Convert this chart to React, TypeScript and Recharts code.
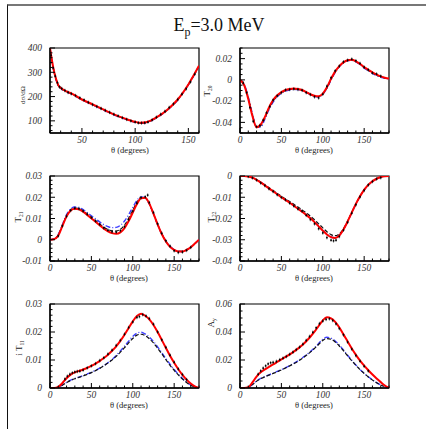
import React from "react";
import { ComposedChart, Line, Scatter, XAxis, YAxis, ReferenceArea } from "recharts";

const SERIF = '"Liberation Serif", "DejaVu Serif", serif';

// angle grid for the calculated curves (degrees)
const THETA = [0, 5, 10, 15, 20, 25, 30, 35, 40, 45, 50, 55, 60, 65, 70, 75, 80, 85, 90, 95, 100, 105, 110, 115, 120, 125, 130, 135, 140, 145, 150, 155, 160, 165, 170, 175, 180];
const THETA_XS = [20, 22, 24, 26, 28, 30, 35, 40, 50, 60, 70, 80, 90, 100, 105, 110, 115, 120, 130, 140, 150, 160];

// dsigma/dOmega
const XS_RED = [400, 345, 300, 268, 245, 236, 222, 213, 188, 168, 147, 127, 110, 96, 92, 94, 102, 114, 145, 188, 250, 327];
const XS_BLUE = [398, 343, 297, 265, 243, 234, 220, 211, 186, 166, 145, 125, 108, 94, 90, 92, 100, 112, 143, 186, 248, 325];
const XS_BLACK = [399, 344, 299, 267, 244, 235, 221, 212, 187, 167, 146, 126, 109, 95, 91, 93, 101, 113, 144, 187, 249, 326];
const XS_PTS_X = [21, 23, 25, 27, 29, 31, 34, 37, 40, 44, 48, 52, 56, 60, 64, 68, 72, 76, 80, 84, 88, 92, 96, 100, 103, 106, 109, 112, 116, 120, 124, 128, 132, 136, 140, 144, 148, 152, 156];
const XS_PTS_Y = [370, 318, 284, 257, 240, 233, 225, 217, 212, 204, 195, 186, 176, 167, 159, 151, 143, 135, 127, 120, 113, 106, 100, 95, 92, 91, 92, 95, 104, 115, 127, 139, 155, 170, 188, 210, 232, 260, 292];

// T20
const T20_RED = [0, -0.005, -0.018, -0.034, -0.0445, -0.042, -0.035, -0.026, -0.019, -0.0145, -0.0115, -0.0095, -0.0085, -0.008, -0.0085, -0.0095, -0.0115, -0.0135, -0.015, -0.0155, -0.013, -0.007, 0.001, 0.008, 0.013, 0.0165, 0.0185, 0.019, 0.0175, 0.015, 0.012, 0.0095, 0.007, 0.005, 0.0033, 0.002, 0.0012];
const T20_BLUE = [0, -0.004, -0.016, -0.032, -0.0445, -0.0445, -0.037, -0.028, -0.021, -0.016, -0.0125, -0.0105, -0.0095, -0.009, -0.009, -0.01, -0.0118, -0.0138, -0.0155, -0.016, -0.0135, -0.008, 0, 0.007, 0.0125, 0.016, 0.018, 0.0185, 0.017, 0.0145, 0.011, 0.0085, 0.006, 0.004, 0.0025, 0.0015, 0.001];
const T20_BLACK = [0, -0.0045, -0.017, -0.033, -0.0445, -0.043, -0.036, -0.027, -0.02, -0.015, -0.012, -0.01, -0.009, -0.0085, -0.0088, -0.0098, -0.0117, -0.0137, -0.0152, -0.0158, -0.0132, -0.0075, 0.0005, 0.0075, 0.0128, 0.0163, 0.0183, 0.0188, 0.0173, 0.0148, 0.0115, 0.009, 0.0065, 0.0045, 0.003, 0.0018, 0.0011];
const T20_PTS_X = [4, 8, 12, 16, 20, 24, 28, 32, 36, 40, 45, 50, 55, 60, 65, 70, 75, 80, 85, 90, 95, 100, 105, 110, 115, 120, 125, 130, 135, 140, 145, 150, 155, 160, 165, 170];
const T20_PTS_Y = [-0.003, -0.012, -0.026, -0.039, -0.044, -0.043, -0.038, -0.031, -0.025, -0.019, -0.015, -0.012, -0.0095, -0.009, -0.0085, -0.009, -0.0098, -0.012, -0.0138, -0.016, -0.017, -0.0135, -0.006, 0.002, 0.0085, 0.013, 0.017, 0.0185, 0.0195, 0.018, 0.0155, 0.012, 0.0095, 0.0065, 0.0055, 0.0035];

// T21
const T21_RED = [0, 0.0003, 0.002, 0.0065, 0.011, 0.0138, 0.0146, 0.0143, 0.0132, 0.0117, 0.0101, 0.0085, 0.0068, 0.0052, 0.004, 0.0031, 0.0028, 0.0035, 0.0055, 0.0088, 0.0128, 0.0168, 0.0195, 0.0198, 0.017, 0.0123, 0.0072, 0.0027, -0.0008, -0.0033, -0.0048, -0.0055, -0.0055, -0.0048, -0.0035, -0.0018, 0];
const T21_BLUE = [0, 0.0004, 0.0025, 0.0072, 0.0118, 0.0145, 0.0154, 0.0152, 0.0142, 0.0128, 0.0113, 0.0098, 0.0084, 0.0071, 0.0062, 0.0057, 0.0058, 0.0068, 0.0088, 0.0118, 0.0153, 0.0185, 0.0202, 0.0197, 0.0168, 0.0122, 0.0072, 0.0028, -0.0006, -0.003, -0.0046, -0.0054, -0.0055, -0.0048, -0.0035, -0.0018, 0];
const T21_BLACK = [0, 0.0003, 0.0022, 0.0068, 0.0113, 0.014, 0.0149, 0.0146, 0.0136, 0.0121, 0.0106, 0.009, 0.0074, 0.0059, 0.0048, 0.0042, 0.0041, 0.0049, 0.0069, 0.0101, 0.0139, 0.0176, 0.0199, 0.0197, 0.0169, 0.0122, 0.0072, 0.0027, -0.0007, -0.0032, -0.0047, -0.0055, -0.0055, -0.0048, -0.0035, -0.0018, 0];
const T21_PTS_X = [10, 15, 20, 25, 30, 35, 40, 45, 50, 55, 60, 65, 70, 75, 80, 85, 90, 95, 100, 105, 110, 115, 118, 120, 125, 130, 135, 140, 145, 150, 155, 160, 165, 170];
const T21_PTS_Y = [0.0018, 0.0065, 0.011, 0.0138, 0.0148, 0.0146, 0.0135, 0.012, 0.0104, 0.0088, 0.0072, 0.0056, 0.0045, 0.0038, 0.0036, 0.0043, 0.0062, 0.0095, 0.0135, 0.0172, 0.0198, 0.0202, 0.021, 0.0175, 0.0128, 0.0075, 0.003, -0.0005, -0.003, -0.0052, -0.006, -0.0058, -0.005, -0.0036];

// T22
const T22_RED = [0, 0, -0.0002, -0.0008, -0.0018, -0.003, -0.0044, -0.0058, -0.0072, -0.0086, -0.01, -0.0113, -0.0126, -0.014, -0.0154, -0.0168, -0.0183, -0.0199, -0.0217, -0.0237, -0.0257, -0.0275, -0.0288, -0.0292, -0.028, -0.0252, -0.0214, -0.0172, -0.0131, -0.0095, -0.0065, -0.0042, -0.0025, -0.0013, -0.0005, -0.0001, 0];
const T22_BLUE = [0, 0, -0.0002, -0.0008, -0.0018, -0.003, -0.0043, -0.0057, -0.0071, -0.0085, -0.0099, -0.0112, -0.0125, -0.0139, -0.0153, -0.0167, -0.0182, -0.0198, -0.0216, -0.0236, -0.0256, -0.0274, -0.0287, -0.029, -0.0279, -0.0252, -0.0215, -0.0173, -0.0132, -0.0096, -0.0066, -0.0043, -0.0026, -0.0013, -0.0005, -0.0001, 0];
const T22_BLACK = [0, 0, -0.0002, -0.0008, -0.0017, -0.0029, -0.0042, -0.0055, -0.0068, -0.0082, -0.0095, -0.0108, -0.012, -0.0133, -0.0146, -0.016, -0.0174, -0.0189, -0.0206, -0.0225, -0.0244, -0.0262, -0.0276, -0.0281, -0.0272, -0.0248, -0.0212, -0.0171, -0.0131, -0.0095, -0.0065, -0.0042, -0.0025, -0.0013, -0.0005, -0.0001, 0];
const T22_PTS_X = [10, 15, 20, 25, 30, 35, 40, 45, 50, 55, 60, 65, 70, 75, 80, 85, 90, 95, 100, 105, 110, 113, 116, 120, 125, 130, 135, 140, 145, 150, 155, 160, 165, 170];
const T22_PTS_Y = [-0.0002, -0.0009, -0.0019, -0.0033, -0.0045, -0.006, -0.0073, -0.0088, -0.0101, -0.0112, -0.0128, -0.0141, -0.0155, -0.0165, -0.0185, -0.0205, -0.0225, -0.0248, -0.0268, -0.029, -0.0302, -0.0305, -0.0302, -0.0285, -0.0255, -0.0218, -0.0175, -0.0135, -0.0098, -0.0068, -0.0042, -0.0026, -0.0014, -0.0008];

// iT11
const IT11_RED = [0, 0, 0.0004, 0.0018, 0.0035, 0.0048, 0.0056, 0.0061, 0.0066, 0.0072, 0.0079, 0.0087, 0.0096, 0.0107, 0.0119, 0.0133, 0.0149, 0.0168, 0.019, 0.0214, 0.0238, 0.0257, 0.0265, 0.0258, 0.0245, 0.0225, 0.02, 0.0172, 0.0143, 0.0115, 0.009, 0.0067, 0.0047, 0.003, 0.0016, 0.0006, 0];
const IT11_BLUE = [0, 0, 0.0003, 0.0011, 0.002, 0.0028, 0.0034, 0.0039, 0.0044, 0.005, 0.0056, 0.0063, 0.0071, 0.008, 0.009, 0.0102, 0.0116, 0.0132, 0.0149, 0.0167, 0.0184, 0.0196, 0.0199, 0.0193, 0.0182, 0.0166, 0.0147, 0.0126, 0.0105, 0.0085, 0.0066, 0.0049, 0.0034, 0.0021, 0.0011, 0.0004, 0];
const IT11_BLACK = [0, 0, 0.0003, 0.001, 0.0019, 0.0027, 0.0033, 0.0038, 0.0043, 0.0049, 0.0055, 0.0062, 0.007, 0.0079, 0.0089, 0.01, 0.0113, 0.0128, 0.0144, 0.0161, 0.0177, 0.0189, 0.0192, 0.0187, 0.0176, 0.0161, 0.0142, 0.0122, 0.0101, 0.0081, 0.0063, 0.0047, 0.0032, 0.002, 0.001, 0.0004, 0];
const IT11_PTS_X = [18, 21, 24, 27, 30, 33, 36, 40, 45, 50, 55, 60, 65, 70, 75, 80, 85, 90, 95, 100, 105, 108, 112, 116, 120, 125, 130, 135, 140, 145, 150, 155, 160, 165];
const IT11_PTS_Y = [0.0032, 0.0042, 0.0049, 0.0054, 0.0057, 0.0059, 0.006, 0.0064, 0.0072, 0.0079, 0.0087, 0.0098, 0.0108, 0.0121, 0.0135, 0.0152, 0.017, 0.0192, 0.0216, 0.0236, 0.0252, 0.0255, 0.0262, 0.0257, 0.0248, 0.0228, 0.02, 0.0172, 0.0145, 0.0117, 0.0092, 0.0068, 0.0048, 0.003];

// Ay
const AY_RED = [0, 0, 0.0005, 0.004, 0.0082, 0.0112, 0.0133, 0.0151, 0.0168, 0.0186, 0.0204, 0.0222, 0.024, 0.026, 0.0281, 0.0305, 0.0334, 0.0366, 0.0402, 0.0443, 0.0483, 0.0505, 0.0498, 0.0472, 0.0432, 0.0383, 0.0332, 0.0282, 0.0237, 0.0196, 0.016, 0.0127, 0.0096, 0.0068, 0.0042, 0.0018, 0];
const AY_BLUE = [0, 0, 0.0003, 0.0025, 0.005, 0.0068, 0.0082, 0.0094, 0.0106, 0.0118, 0.0131, 0.0145, 0.016, 0.0176, 0.0194, 0.0214, 0.0236, 0.026, 0.0287, 0.0318, 0.0348, 0.0362, 0.0356, 0.0336, 0.0306, 0.0271, 0.0234, 0.0198, 0.0164, 0.0133, 0.0105, 0.008, 0.0058, 0.0039, 0.0022, 0.0009, 0];
const AY_BLACK = [0, 0, 0.0003, 0.0024, 0.0048, 0.0066, 0.008, 0.0092, 0.0104, 0.0116, 0.0129, 0.0143, 0.0158, 0.0174, 0.0191, 0.0211, 0.0232, 0.0256, 0.0282, 0.0311, 0.034, 0.0353, 0.0348, 0.0329, 0.03, 0.0266, 0.023, 0.0195, 0.0162, 0.0131, 0.0104, 0.0079, 0.0057, 0.0038, 0.0021, 0.0009, 0];
const AY_PTS_X = [22, 25, 28, 31, 34, 37, 40, 44, 48, 52, 56, 60, 64, 68, 72, 76, 80, 84, 88, 92, 96, 100, 104, 108, 112, 116, 120, 125, 130, 135, 140, 145, 150, 155];
const AY_PTS_Y = [0.0098, 0.0122, 0.0142, 0.0158, 0.0172, 0.018, 0.0183, 0.019, 0.0202, 0.0213, 0.0225, 0.024, 0.0256, 0.0274, 0.0292, 0.0313, 0.034, 0.0368, 0.0398, 0.043, 0.046, 0.0478, 0.049, 0.0494, 0.0482, 0.0458, 0.0425, 0.038, 0.0328, 0.0278, 0.0232, 0.0192, 0.0155, 0.0122];

// labelled ticks
const X_MAJOR_XS = [50, 100, 150];
const X_MAJOR = [0, 50, 100, 150];
const Y_MAJOR_XS = [100, 200, 300, 400];
const Y_MAJOR_T20 = [-0.04, -0.02, 0, 0.02];
const Y_MAJOR_T21 = [-0.01, 0, 0.01, 0.02, 0.03];
const Y_MAJOR_T22 = [-0.04, -0.03, -0.02, -0.01, 0];
const Y_MAJOR_IT11 = [0, 0.01, 0.02, 0.03];
const Y_MAJOR_AY = [0, 0.02, 0.04, 0.06];

const PLOT_W = 149;
const ML = 45;
const MT = 5;
const MR = 5;
const MB = 22;

const range = (a: number, b: number, step: number) => {
  const out: number[] = [];
  const n = Math.round((b - a) / step);
  for (let i = 0; i <= n; i++) out.push(+(a + i * step).toFixed(6));
  return out;
};
const isMajor = (majors: number[], v: number) => majors.some((m) => Math.abs(m - v) < 1e-9);
const toXY = (xs: number[], ys: number[]) => xs.map((x, i) => ({ x, y: ys[i] }));

const tickFont = { fontFamily: SERIF, fontStyle: "italic" as const, fontSize: 9.5, fill: "#333" };

const renderPoint = (p: any) => (
  <g>
    <line x1={p.cx} x2={p.cx} y1={p.cy - 1.8} y2={p.cy + 1.8} stroke="#000" strokeWidth={0.5} />
    <rect x={p.cx - 0.8} y={p.cy - 0.8} width={1.6} height={1.6} fill="#000" />
  </g>
);

type PanelDef = {
  left: number;
  top: number;
  h: number;
  theta: number[];
  red: number[];
  blue: number[];
  black: number[];
  ptsX: number[];
  ptsY: number[];
  xDomain: [number, number];
  xMajor: number[];
  yDomain: [number, number];
  yMajor: number[];
  yMinorStart: number;
  yMinorStep: number;
  label: React.ReactNode;
  labelX: number;
  labelY: number;
  labelSize: number;
  titleX: number;
};

function Panel({ p }: { p: PanelDef }) {
  const xTicks = range(p.xDomain[0], p.xDomain[1], 10);
  const yTicks = range(p.yMinorStart, p.yDomain[1], p.yMinorStep);

  const xTick = (t: any) => {
    const major = isMajor(p.xMajor, t.payload.value);
    return (
      <g>
        <line x1={t.x} x2={t.x} y1={t.y} y2={t.y - (major ? 5 : 2.5)} stroke="#000" strokeWidth={1} />
        {major && (
          <text x={t.x} y={t.y + 10} textAnchor="middle" {...tickFont}>
            {String(t.payload.value)}
          </text>
        )}
      </g>
    );
  };

  const yTick = (t: any) => {
    const major = isMajor(p.yMajor, t.payload.value);
    return (
      <g>
        <line x1={t.x} x2={t.x + (major ? 5 : 2.5)} y1={t.y} y2={t.y} stroke="#000" strokeWidth={1} />
        {major && (
          <text x={t.x - 8} y={t.y + 3.3} textAnchor="end" {...tickFont}>
            {String(t.payload.value)}
          </text>
        )}
      </g>
    );
  };

  return (
    <>
      <div style={{ position: "absolute", left: p.left - ML, top: p.top - MT }}>
        <ComposedChart
          width={ML + PLOT_W + MR}
          height={MT + p.h + MB}
          margin={{ top: MT, right: MR, bottom: 0, left: 0 }}
        >
          <XAxis
            type="number"
            dataKey="x"
            domain={p.xDomain}
            ticks={xTicks}
            interval={0}
            allowDataOverflow
            height={MB}
            tickSize={0}
            tickMargin={0}
            tickLine={false}
            axisLine={{ stroke: "#000", strokeWidth: 1.3 }}
            tick={xTick}
          />
          <YAxis
            type="number"
            dataKey="y"
            domain={p.yDomain}
            ticks={yTicks}
            interval={0}
            allowDataOverflow
            width={ML}
            tickSize={0}
            tickMargin={0}
            tickLine={false}
            axisLine={{ stroke: "#000", strokeWidth: 1.3 }}
            tick={yTick}
          />
          <ReferenceArea
            x1={p.xDomain[0]}
            x2={p.xDomain[1]}
            y1={p.yDomain[0]}
            y2={p.yDomain[1]}
            fill="none"
            stroke="#000"
            strokeWidth={1.2}
          />
          <Line data={toXY(p.theta, p.blue)} dataKey="y" type="monotone" stroke="#4040ff" strokeWidth={1.4} strokeDasharray="5 2 1 2" dot={false} activeDot={false} isAnimationActive={false} />
          <Line data={toXY(p.theta, p.black)} dataKey="y" type="monotone" stroke="#111" strokeWidth={1.2} strokeDasharray="4 2" dot={false} activeDot={false} isAnimationActive={false} />
          <Line data={toXY(p.theta, p.red)} dataKey="y" type="monotone" stroke="#ff0000" strokeWidth={2} dot={false} activeDot={false} isAnimationActive={false} />
          <Scatter data={toXY(p.ptsX, p.ptsY)} dataKey="y" shape={renderPoint} isAnimationActive={false} />
        </ComposedChart>
      </div>
      <div
        style={{
          position: "absolute",
          left: p.labelX,
          top: p.labelY,
          transform: "translate(-50%, -50%) rotate(-90deg)",
          whiteSpace: "nowrap",
          fontFamily: SERIF,
          fontSize: p.labelSize,
          lineHeight: 1,
          color: "#222",
        }}
      >
        {p.label}
      </div>
      <div
        style={{
          position: "absolute",
          left: p.titleX,
          top: p.top + p.h + 17,
          transform: "translate(-50%, -50%)",
          whiteSpace: "nowrap",
          fontFamily: SERIF,
          fontSize: 8.5,
          lineHeight: 1,
          color: "#222",
        }}
      >
        θ (degrees)
      </div>
    </>
  );
}

const subStyle: React.CSSProperties = { fontSize: "0.6em", verticalAlign: "-0.3em" };

const PANELS: PanelDef[] = [
  {
    left: 50, top: 48, h: 85, theta: THETA_XS, red: XS_RED, blue: XS_BLUE, black: XS_BLACK,
    ptsX: XS_PTS_X, ptsY: XS_PTS_Y, xDomain: [20, 160], xMajor: X_MAJOR_XS,
    yDomain: [50, 400], yMajor: Y_MAJOR_XS, yMinorStart: 60, yMinorStep: 20,
    label: <span>dσ/dΩ</span>, labelX: 23, labelY: 95, labelSize: 7, titleX: 130,
  },
  {
    left: 240, top: 48, h: 85, theta: THETA, red: T20_RED, blue: T20_BLUE, black: T20_BLACK,
    ptsX: T20_PTS_X, ptsY: T20_PTS_Y, xDomain: [0, 180], xMajor: X_MAJOR,
    yDomain: [-0.05, 0.03], yMajor: Y_MAJOR_T20, yMinorStart: -0.05, yMinorStep: 0.005,
    label: <span>T<span style={subStyle}>20</span></span>, labelX: 208, labelY: 91, labelSize: 9, titleX: 314,
  },
  {
    left: 50, top: 176, h: 85, theta: THETA, red: T21_RED, blue: T21_BLUE, black: T21_BLACK,
    ptsX: T21_PTS_X, ptsY: T21_PTS_Y, xDomain: [0, 180], xMajor: X_MAJOR,
    yDomain: [-0.01, 0.03], yMajor: Y_MAJOR_T21, yMinorStart: -0.01, yMinorStep: 0.002,
    label: <span>T<span style={subStyle}>21</span></span>, labelX: 19, labelY: 217, labelSize: 9, titleX: 129,
  },
  {
    left: 240, top: 176, h: 85, theta: THETA, red: T22_RED, blue: T22_BLUE, black: T22_BLACK,
    ptsX: T22_PTS_X, ptsY: T22_PTS_Y, xDomain: [0, 180], xMajor: X_MAJOR,
    yDomain: [-0.04, 0], yMajor: Y_MAJOR_T22, yMinorStart: -0.04, yMinorStep: 0.002,
    label: <span>T<span style={subStyle}>22</span></span>, labelX: 212, labelY: 217, labelSize: 9, titleX: 314,
  },
  {
    left: 50, top: 304, h: 84, theta: THETA, red: IT11_RED, blue: IT11_BLUE, black: IT11_BLACK,
    ptsX: IT11_PTS_X, ptsY: IT11_PTS_Y, xDomain: [0, 180], xMajor: X_MAJOR,
    yDomain: [0, 0.03], yMajor: Y_MAJOR_IT11, yMinorStart: 0, yMinorStep: 0.002,
    label: <span>i T<span style={subStyle}>11</span></span>, labelX: 20, labelY: 348, labelSize: 9, titleX: 129,
  },
  {
    left: 240, top: 304, h: 84, theta: THETA, red: AY_RED, blue: AY_BLUE, black: AY_BLACK,
    ptsX: AY_PTS_X, ptsY: AY_PTS_Y, xDomain: [0, 180], xMajor: X_MAJOR,
    yDomain: [0, 0.06], yMajor: Y_MAJOR_AY, yMinorStart: 0, yMinorStep: 0.005,
    label: <span>A<span style={subStyle}>y</span></span>, labelX: 212, labelY: 323, labelSize: 9, titleX: 314,
  },
];

export default function App() {
  return (
    <div style={{ position: "absolute", left: 0, top: 0, width: 426, height: 429, background: "#fff", overflow: "hidden" }}>
      <div
        style={{
          position: "absolute",
          left: 7,
          top: 4,
          width: 430,
          height: 440,
          borderTop: "2px solid #777",
          borderLeft: "1px solid #111",
        }}
      />
      <div
        style={{
          position: "absolute",
          left: 119,
          top: 16,
          width: 200,
          textAlign: "center",
          fontFamily: SERIF,
          fontSize: 18,
          lineHeight: 1,
          color: "#111",
          whiteSpace: "nowrap",
        }}
      >
        E<span style={{ fontSize: 12, verticalAlign: "-0.45em" }}>p</span>=3.0 MeV
      </div>
      {PANELS.map((p, i) => (
        <Panel key={i} p={p} />
      ))}
    </div>
  );
}
